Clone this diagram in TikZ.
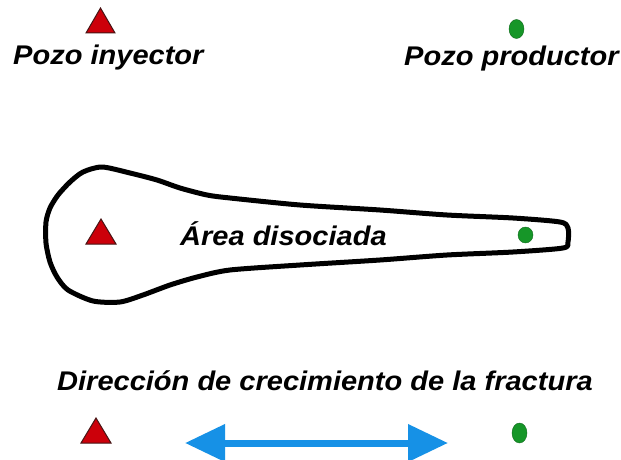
\documentclass[tikz,border=0pt]{standalone}
\usepackage{fontspec}
\setmainfont{Liberation Sans}
\usepackage{graphicx}
\usetikzlibrary{arrows.meta}
\definecolor{wellred}{RGB}{204,0,10}
\definecolor{welledge}{RGB}{70,20,20}
\definecolor{wellgreen}{RGB}{22,150,40}
\definecolor{arrowblue}{RGB}{22,145,230}
\tikzset{
  lbl/.style={anchor=base west, inner sep=0pt, font=\fontsize{27}{32}\selectfont\bfseries\itshape},
  injector/.style={fill=wellred, draw=welledge, line width=1pt, line join=miter},
  producer/.style={fill=wellgreen, draw=wellgreen!70!black, line width=0.4pt},
  outline/.style={draw=black, line width=5pt, line join=round},
  growth/.style={draw=arrowblue, line width=7pt, {Triangle[length=40pt,width=36pt]}-{Triangle[length=40pt,width=36pt]}}
}
\newcommand{\stretchtxt}[1]{\scalebox{1.075}[1]{#1}}
\begin{document}
\begin{tikzpicture}[x=1pt,y=-1pt]
\useasboundingbox (0,0) rectangle (621,460);
\clip (0,0) rectangle (621,460);
\fill[white] (0,0) rectangle (621,460);

% top legend
\path[injector] (100.5,8) -- (115,33) -- (86,33) -- cycle;
\node[lbl] (tinj) at (13,64) {\stretchtxt{Pozo inyector}};
\path[producer] (516.5,29) ellipse [x radius=7.5, y radius=9.5];
\node[lbl] (tprod) at (404,66) {\stretchtxt{Pozo productor}};

% dissociated area outline
\path[outline] plot[smooth cycle, tension=0.45] coordinates {
 (102,167) (130,173) (157,180) (180,188) (207,195) (230,198) (300,205)
 (380,210) (447,215) (513,218) (560,222) (568,228) (568,242) (563,248)
 (513,252) (447,255) (380,260) (300,265) (230,270) (197,277) (170,285)
 (143,295) (120,302) (93,301) (68,290) (57,277) (50,262) (46,243)
 (46,222) (50,208) (58,195) (70,182) (83,172)};
\path[injector] (101,219) -- (116,244) -- (86,244) -- cycle;
\node[lbl] (tarea) at (180,245) {\stretchtxt{Área disociada}};
\path[producer] (525.5,235) ellipse [x radius=7.5, y radius=8];

% bottom
\node[lbl] (tdir) at (57,390) {\stretchtxt{Dirección de crecimiento de la fractura}};
\path[injector] (96,418) -- (111,443) -- (81,443) -- cycle;
\coordinate (aL) at (185,443);
\coordinate (aR) at (448,443);
\draw[growth] (aL) -- (aR);
\path[producer] (519.5,433) ellipse [x radius=7.5, y radius=10];
\end{tikzpicture}
\end{document}
